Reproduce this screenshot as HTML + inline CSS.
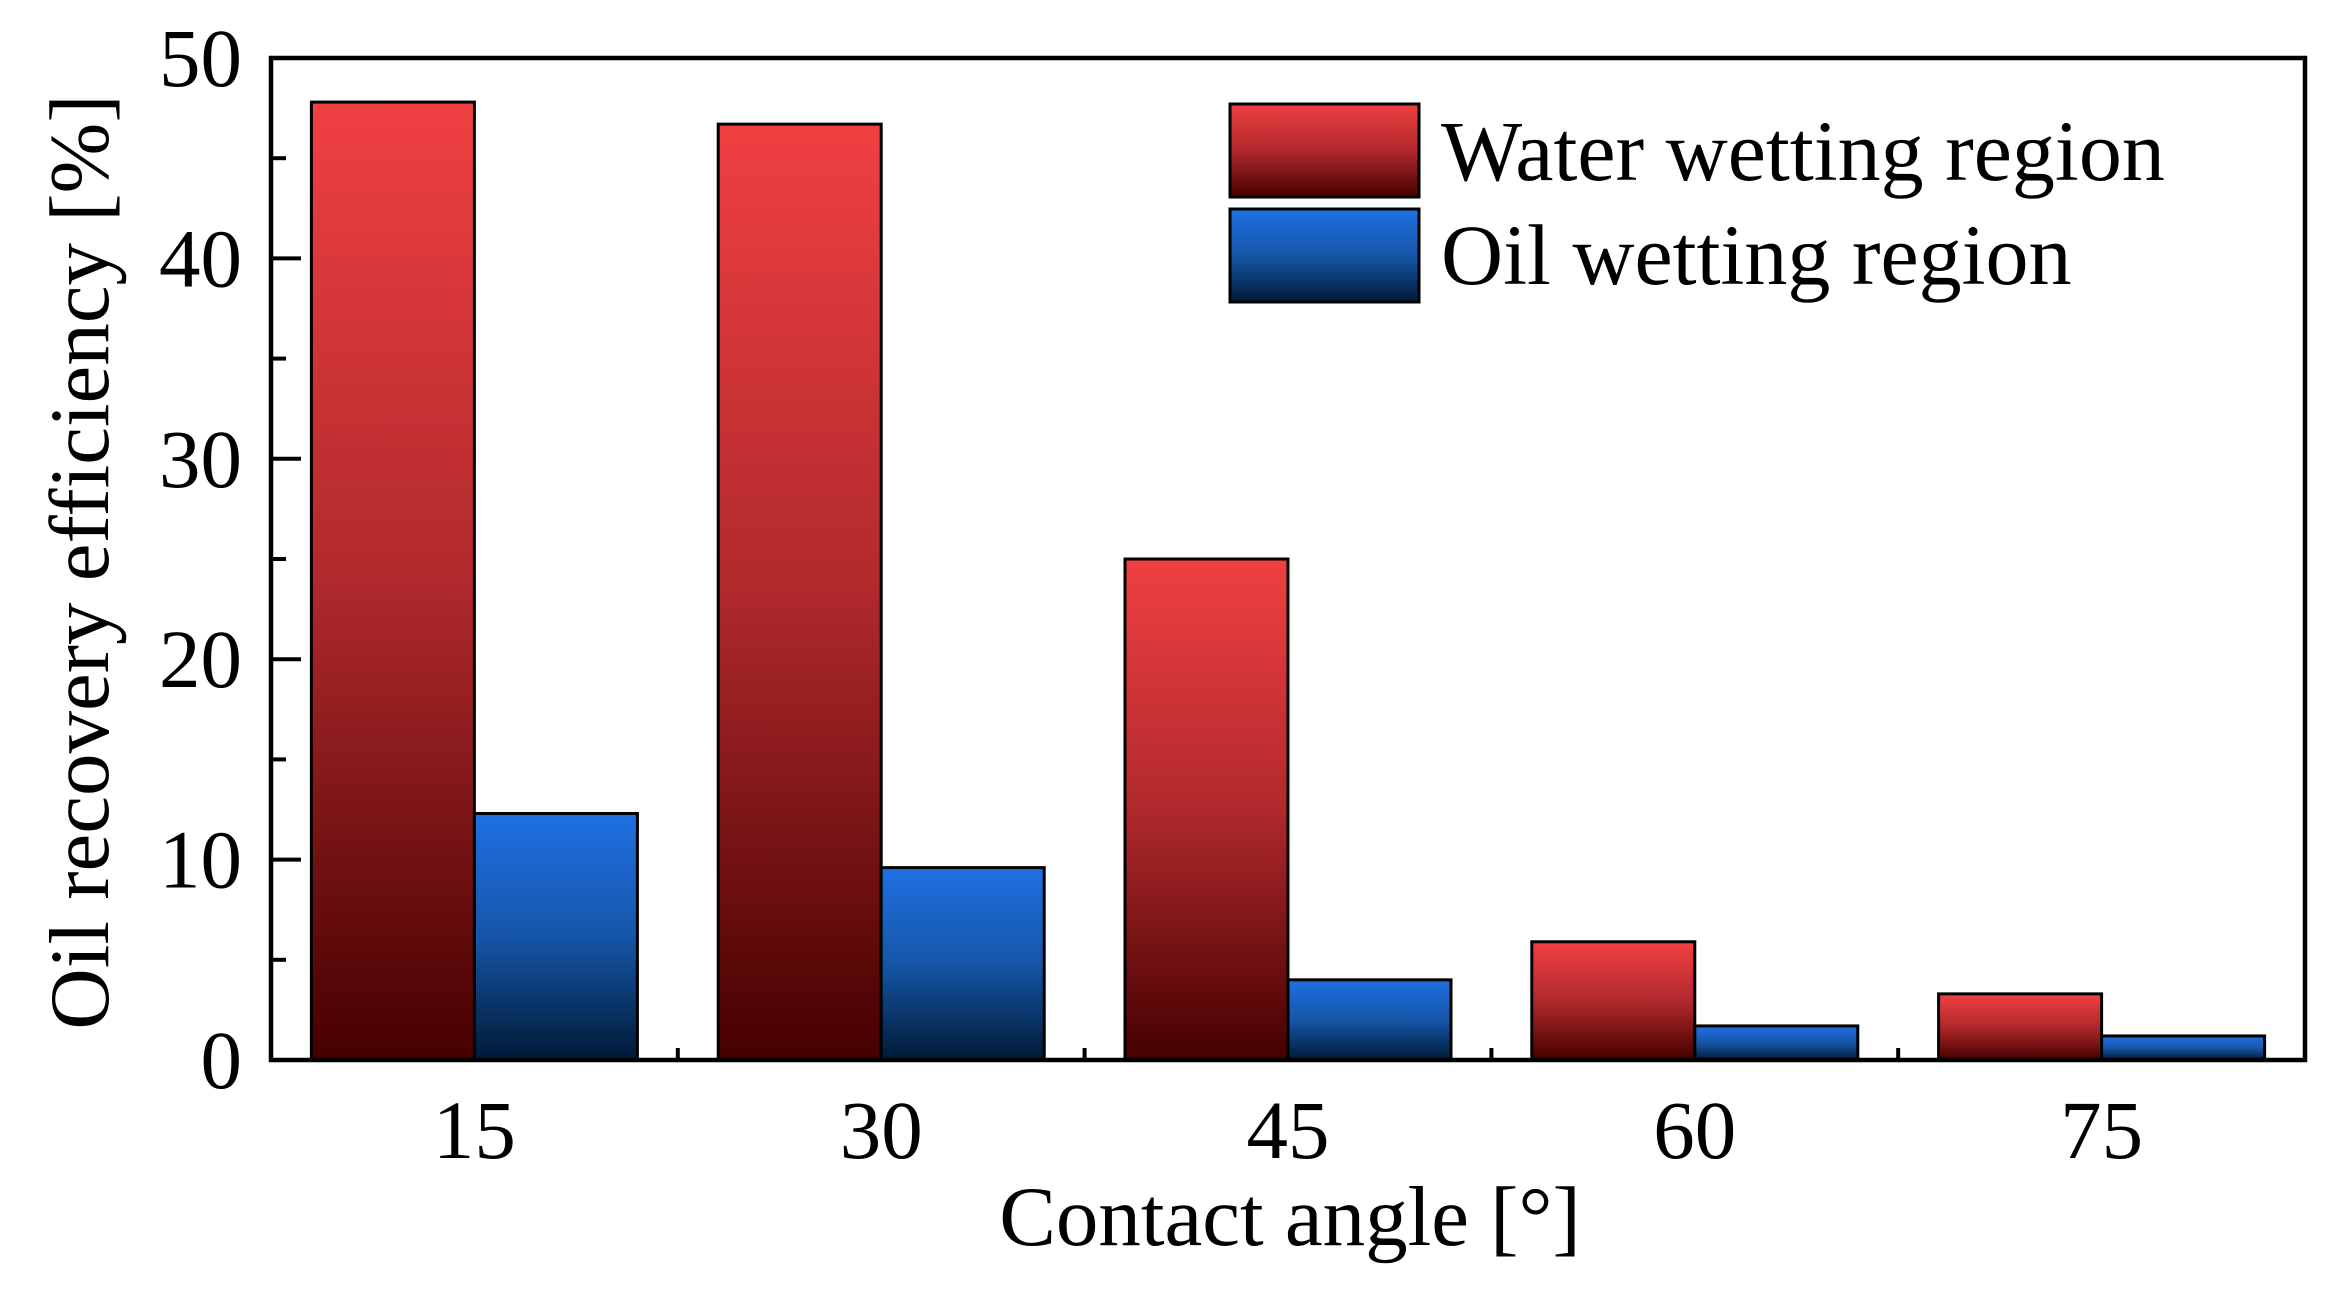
<!DOCTYPE html>
<html><head><meta charset="utf-8"><style>
html,body{margin:0;padding:0;background:#fff;}
svg{display:block;font-family:"Liberation Serif",serif;}
</style></head><body>
<svg id="chart" width="2347" height="1293" viewBox="0 0 2347 1293" xmlns="http://www.w3.org/2000/svg">
<defs>
<linearGradient id="gRed" x1="0" y1="0" x2="0" y2="1"><stop offset="0" stop-color="#f04042"/><stop offset="0.5" stop-color="#b0292c"/><stop offset="1" stop-color="#450000"/></linearGradient>
<linearGradient id="gBlue" x1="0" y1="0" x2="0" y2="1"><stop offset="0" stop-color="#1f70e2"/><stop offset="0.5" stop-color="#1656a8"/><stop offset="1" stop-color="#001a36"/></linearGradient>
</defs>
<g id="bars"></g>
<g id="axes"></g>
<g>
<rect x="1230" y="104" width="189" height="93" fill="url(#gRed)" stroke="#000" stroke-width="3"/>
<rect x="1230" y="209" width="189" height="93" fill="url(#gBlue)" stroke="#000" stroke-width="3"/>
<text x="1441" y="180" font-size="86">Water wetting region</text>
<text x="1441" y="284" font-size="86">Oil wetting region</text>
</g>
<text x="1290" y="1245" font-size="85" text-anchor="middle">Contact angle [°]</text>
<text transform="translate(108,562) rotate(-90)" font-size="85" text-anchor="middle">Oil recovery efficiency [%]</text>
</svg>
<script>
const categories = ["15","30","45","60","75"];
const waterValues = [47.8, 46.7, 25.0, 5.9, 3.3];
const oilValues = [12.3, 9.6, 4.0, 1.7, 1.2];
const yTicks = [0,10,20,30,40,50];
const NS="http://www.w3.org/2000/svg";
const L=271,R=2305,T=58,B=1060,yMax=50;
const band=(R-L)/categories.length, bw=163;
const y=v=>B-(v/yMax)*(B-T);
const xc=i=>L+band*(i+0.5);
function mk(tag,attrs,parent){const e=document.createElementNS(NS,tag);for(const k in attrs)e.setAttribute(k,attrs[k]);parent.appendChild(e);return e;}
const bars=document.getElementById('bars'), axes=document.getElementById('axes');
categories.forEach((c,i)=>{
  let r=mk('rect',{x:xc(i)-bw,y:y(waterValues[i]),width:bw,height:B-y(waterValues[i]),fill:'url(#gRed)',stroke:'#000','stroke-width':3},bars);
  
  
  let b=mk('rect',{x:xc(i),y:y(oilValues[i]),width:bw,height:B-y(oilValues[i]),fill:'url(#gBlue)',stroke:'#000','stroke-width':3},bars);
  
  
  let t=mk('text',{x:xc(i),y:1158,'font-size':83,'text-anchor':'middle'},axes);
  t.textContent=c;
  
  
  if(i>0){let m=mk('line',{x1:L+band*i,x2:L+band*i,y1:B,y2:B-12,stroke:'#000','stroke-width':4},axes);
  
  }
});
yTicks.forEach((v,i)=>{
  let l=mk('line',{x1:L,x2:L+30,y1:y(v),y2:y(v),stroke:'#000','stroke-width':4},axes);
  
  
  if(i<yTicks.length-1){let h=(v+yTicks[i+1])/2;let m=mk('line',{x1:L,x2:L+15,y1:y(h),y2:y(h),stroke:'#000','stroke-width':4},axes);
  
  }
  let t=mk('text',{x:242,y:y(v)+28,'font-size':83,'text-anchor':'end'},axes);
  t.textContent=v;
  
  
});
let f=mk('rect',{x:L,y:T,width:R-L,height:B-T,fill:'none',stroke:'#000','stroke-width':4.5},axes);


</script>
</body></html>
